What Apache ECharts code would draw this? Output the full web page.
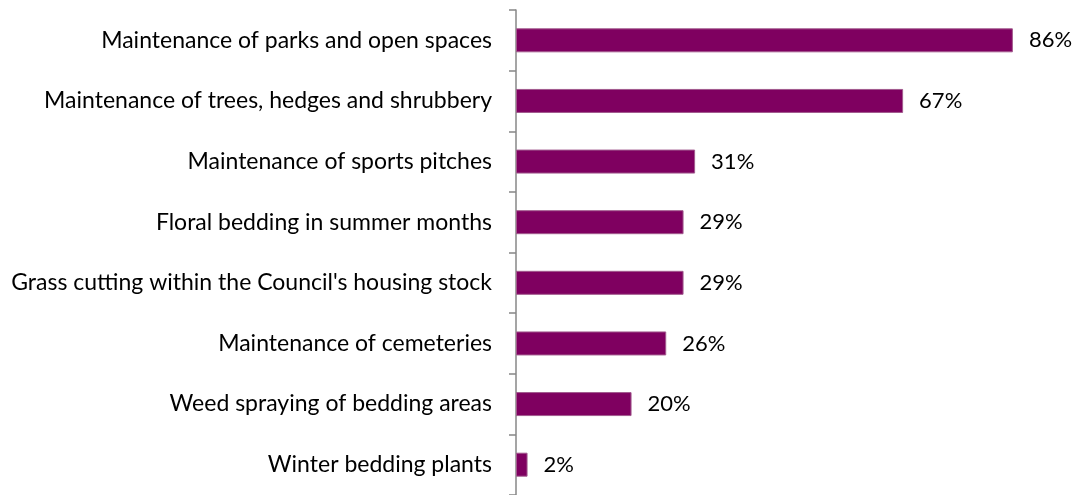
<!DOCTYPE html>
<html>
<head>
<meta charset="utf-8">
<style>
  html, body { margin: 0; padding: 0; background: #ffffff; }
  #chart { width: 1076px; height: 495px; }
</style>
<script src="https://cdn.jsdelivr.net/npm/echarts@6/dist/echarts.min.js"></script>
</head>
<body>
<div id="chart"></div>
<script>
// Services, listed top to bottom
const categories = [
  "Maintenance of parks and open spaces",
  "Maintenance of trees, hedges and shrubbery",
  "Maintenance of sports pitches",
  "Floral bedding in summer months",
  "Grass cutting within the Council's housing stock",
  "Maintenance of cemeteries",
  "Weed spraying of bedding areas",
  "Winter bedding plants"
];
// Share of respondents, percent
const values = [86, 67, 31, 29, 29, 26, 20, 2];

const chart = echarts.init(document.getElementById('chart'));
chart.setOption({
  animation: false,
  grid: { left: 516, top: 10, bottom: 0, right: 40, containLabel: false },
  xAxis: {
    type: 'value',
    min: 0,
    max: 90,
    show: false
  },
  yAxis: {
    type: 'category',
    data: categories,
    inverse: true,
    axisLine: { show: true, lineStyle: { color: '#878787', width: 1.5 } },
    axisTick: { show: true, length: 7, lineStyle: { color: '#878787', width: 1.5 } },
    axisLabel: {
      color: '#000000',
      fontFamily: 'Lato, "Noto Sans", sans-serif',
      fontSize: 23,
      margin: 24
    },
    splitLine: { show: false }
  },
  series: [{
    type: 'bar',
    data: values,
    barWidth: 24,
    itemStyle: { color: '#7F0060', borderColor: '#A25A8E', borderWidth: 1 },
    label: {
      show: true,
      position: 'right',
      distance: 16,
      formatter: '{c}%',
      color: '#000000',
      fontFamily: 'Lato, "Noto Sans", sans-serif',
      fontSize: 22
    }
  }]
});
</script>
</body>
</html>
